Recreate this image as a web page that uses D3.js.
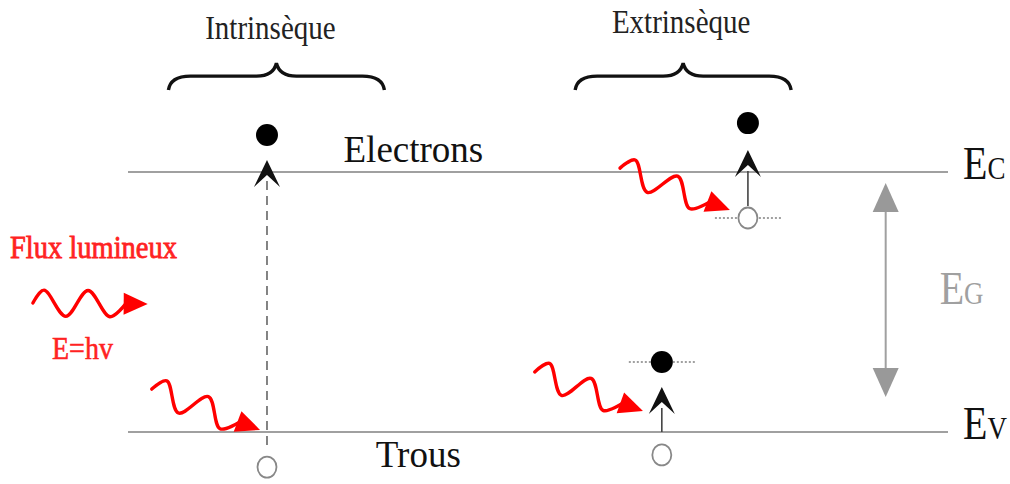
<!DOCTYPE html>
<html><head><meta charset="utf-8">
<script src="https://cdn.jsdelivr.net/npm/d3@7"></script>
<style>body{margin:0;background:#fff}svg{display:block}text{font-family:"Liberation Serif","Times New Roman",serif}</style>
</head><body><svg id="c" width="1010" height="484"></svg>
<script>
// ---- data (x in fraction of band width, energy in units of Eg: Ev=0, Ec=1)
const levelNames = ["E", "E"];
const levelSubs = ["C", "V"];
const levelEnergy = [1, 0];
const groupNames = ["Intrinsèque", "Extrinsèque"];
const groupX = [0.181, 0.677];
const bandLabels = ["Electrons", "Trous"];
const bandLabelX = [0.348, 0.354];
const bandLabelE = [1.038, -0.135];
// transitions: column x, electron dot energy, hole (open circle) energy, caret tip energy, local level energy
const transX = [0.1695, 0.756, 0.651];
const electronE = [1.142, 1.188, 0.269];
const holeE = [-0.135, 0.823, -0.088];
const caretTipE = [1.046, 1.085, 0.173];
const localLevel = [null, 0.823, 0.269];
const shaftStyle = ["dashed", "solid", "solid"];
// photons: start (x,e) and arrow tip (x,e)
const photonStartX = [-0.116, 0.029, 0.600, 0.496];
const photonStartE = [0.496, 0.165, 1.015, 0.231];
const photonTipX = [0.024, 0.161, 0.734, 0.628];
const photonTipE = [0.492, 0.008, 0.854, 0.081];
const gapArrowX = 0.924;
const gapLabel = ["E", "G"];

const svg = d3.select("#c");
const x = d3.scaleLinear().domain([0, 1]).range([128, 948]);
const y = d3.scaleLinear().domain([0, 1]).range([432, 172]);

function stxt(g, px, py, sy) { return g.attr("transform", `translate(${px},${py}) scale(1,${sy})`); }

// band lines
svg.selectAll("line.level").data(levelEnergy).join("line")
  .attr("x1", x(0)).attr("x2", x(1)).attr("y1", d => y(d)).attr("y2", d => y(d))
  .attr("stroke", "#a0a0a0").attr("stroke-width", 2.2);

// level labels
levelEnergy.forEach((e, i) => {
  const t = svg.append("text").attr("fill", "#111");
  stxt(t, x(1) + 15, y(e) + 7, 1.15);
  t.append("tspan").attr("font-size", 40).text(levelNames[i]);
  t.append("tspan").attr("font-size", 27).text(levelSubs[i]);
});

// gap arrow
const gx = x(gapArrowX), gTop = y(1) + 11, gBot = y(0) - 35;
svg.append("line").attr("x1", gx).attr("x2", gx).attr("y1", gTop + 20).attr("y2", gBot - 20)
  .attr("stroke", "#a0a0a0").attr("stroke-width", 2);
svg.append("path").attr("d", `M${gx},${gTop} L${gx + 13},${gTop + 29} L${gx - 13},${gTop + 29}Z`).attr("fill", "#999");
svg.append("path").attr("d", `M${gx},${gBot} L${gx + 13},${gBot - 29} L${gx - 13},${gBot - 29}Z`).attr("fill", "#999");
{
  const t = svg.append("text").attr("fill", "#a0a0a0");
  stxt(t, gx + 54, y(0.5) + 2, 1.15);
  t.append("tspan").attr("font-size", 40).text(gapLabel[0]);
  t.append("tspan").attr("font-size", 27).text(gapLabel[1]);
}

// band labels
bandLabels.forEach((s, i) => {
  const t = svg.append("text").attr("font-size", 37).attr("fill", "#111").attr("text-anchor", "middle").text(s);
  stxt(t, x(bandLabelX[i]), y(bandLabelE[i]), 1.0);
});

// groups: braces + titles
const braceHalf = 108;
groupX.forEach((gxf, i) => {
  const cx = x(gxf), yb = y(1.315), ym = yb - 14, yt = yb - 27;
  const x0 = cx - braceHalf, x1 = cx + braceHalf;
  svg.append("path").attr("d",
    `M${x0},${yb} Q${x0 + 2},${ym} ${x0 + 22},${ym} L${cx - 20},${ym} Q${cx - 3},${ym} ${cx},${yt} Q${cx + 3},${ym} ${cx + 20},${ym} L${x1 - 22},${ym} Q${x1 - 2},${ym} ${x1},${yb}`)
    .attr("fill", "none").attr("stroke", "#111").attr("stroke-width", 3.4);
  const t = svg.append("text").attr("font-size", 29).attr("fill", "#222").attr("text-anchor", "middle").text(groupNames[i]);
  stxt(t, cx - 6 + i * 4, yt - 24 - (i === 1 ? 6 : 0), 1.15);
});

// transitions
transX.forEach((tx, i) => {
  const cx = x(tx);
  const tip = y(caretTipE[i]);
  const base = tip + 27;
  const holeY = y(holeE[i]);
  const shaftEnd = i === 0 ? holeY - 16 : (i === 1 ? holeY - 12 : y(0));
  svg.append("line").attr("x1", cx).attr("x2", cx).attr("y1", base - 6).attr("y2", shaftEnd)
    .attr("stroke", i === 0 ? "#666" : "#444").attr("stroke-width", 1.6)
    .attr("stroke-dasharray", shaftStyle[i] === "dashed" ? "9,6" : null);
  svg.append("path").attr("d", `M${cx},${tip} L${cx + 13},${base} L${cx},${tip + 15} L${cx - 13},${base}Z`).attr("fill", "#111");
  if (localLevel[i] !== null) {
    const ly = y(localLevel[i]);
    svg.append("line").attr("x1", cx - 33).attr("x2", cx + 33).attr("y1", ly).attr("y2", ly)
      .attr("stroke", "#a0a0a0").attr("stroke-width", 2).attr("stroke-dasharray", "2,2");
  }
  svg.append("circle").attr("cx", cx).attr("cy", y(electronE[i])).attr("r", 11).attr("fill", "#000");
  svg.append("ellipse").attr("cx", cx).attr("cy", holeY).attr("rx", 9.5).attr("ry", 10.5)
    .attr("fill", "#fff").attr("stroke", "#888").attr("stroke-width", 1.8);
});

// photons
const waveLine = d3.line().curve(d3.curveCatmullRom.alpha(0.5));
photonStartX.forEach((sx, i) => {
  const S = [x(sx), y(photonStartE[i])];
  const T = [x(photonTipX[i]), y(photonTipE[i])];
  const dx = T[0] - S[0], dy = T[1] - S[1];
  const len = Math.hypot(dx, dy);
  const ux = dx / len, uy = dy / len;
  const px = uy, py = -ux;
  const L = 24, A = i === 0 ? 13 : 13, n = 4;
  const B = [T[0] - ux * L, T[1] - uy * L];
  const wl = len - L;
  const pts = [S];
  for (let k = 1; k <= n; k++) {
    const t = (k - 0.5) / n * wl * 0.97;
    const s = (k % 2 === 1) ? 1 : -1;
    pts.push([S[0] + ux * t + px * A * s, S[1] + uy * t + py * A * s]);
  }
  pts.push([B[0] + ux * 2, B[1] + uy * 2]);
  svg.append("path").attr("d", waveLine(pts)).attr("fill", "none").attr("stroke", "#f00")
    .attr("stroke-width", 3.4).attr("stroke-linecap", "round");
  svg.append("path").attr("d",
    `M${T[0]},${T[1]} L${B[0] + px * 11},${B[1] + py * 11} L${B[0] - px * 11},${B[1] - py * 11}Z`).attr("fill", "#f00");
});

// flux labels
{
  const t = svg.append("text").attr("font-size", 28.5).attr("fill", "#f22")
    .attr("stroke", "#f22").attr("stroke-width", 0.7).text("Flux lumineux");
  stxt(t, 10, 258, 1.1);
  const t2 = svg.append("text").attr("font-size", 28).attr("fill", "#f22")
    .attr("stroke", "#f22").attr("stroke-width", 0.5).text("E=hv");
  stxt(t2, 52, 359, 1.12);
}
</script></body></html>
